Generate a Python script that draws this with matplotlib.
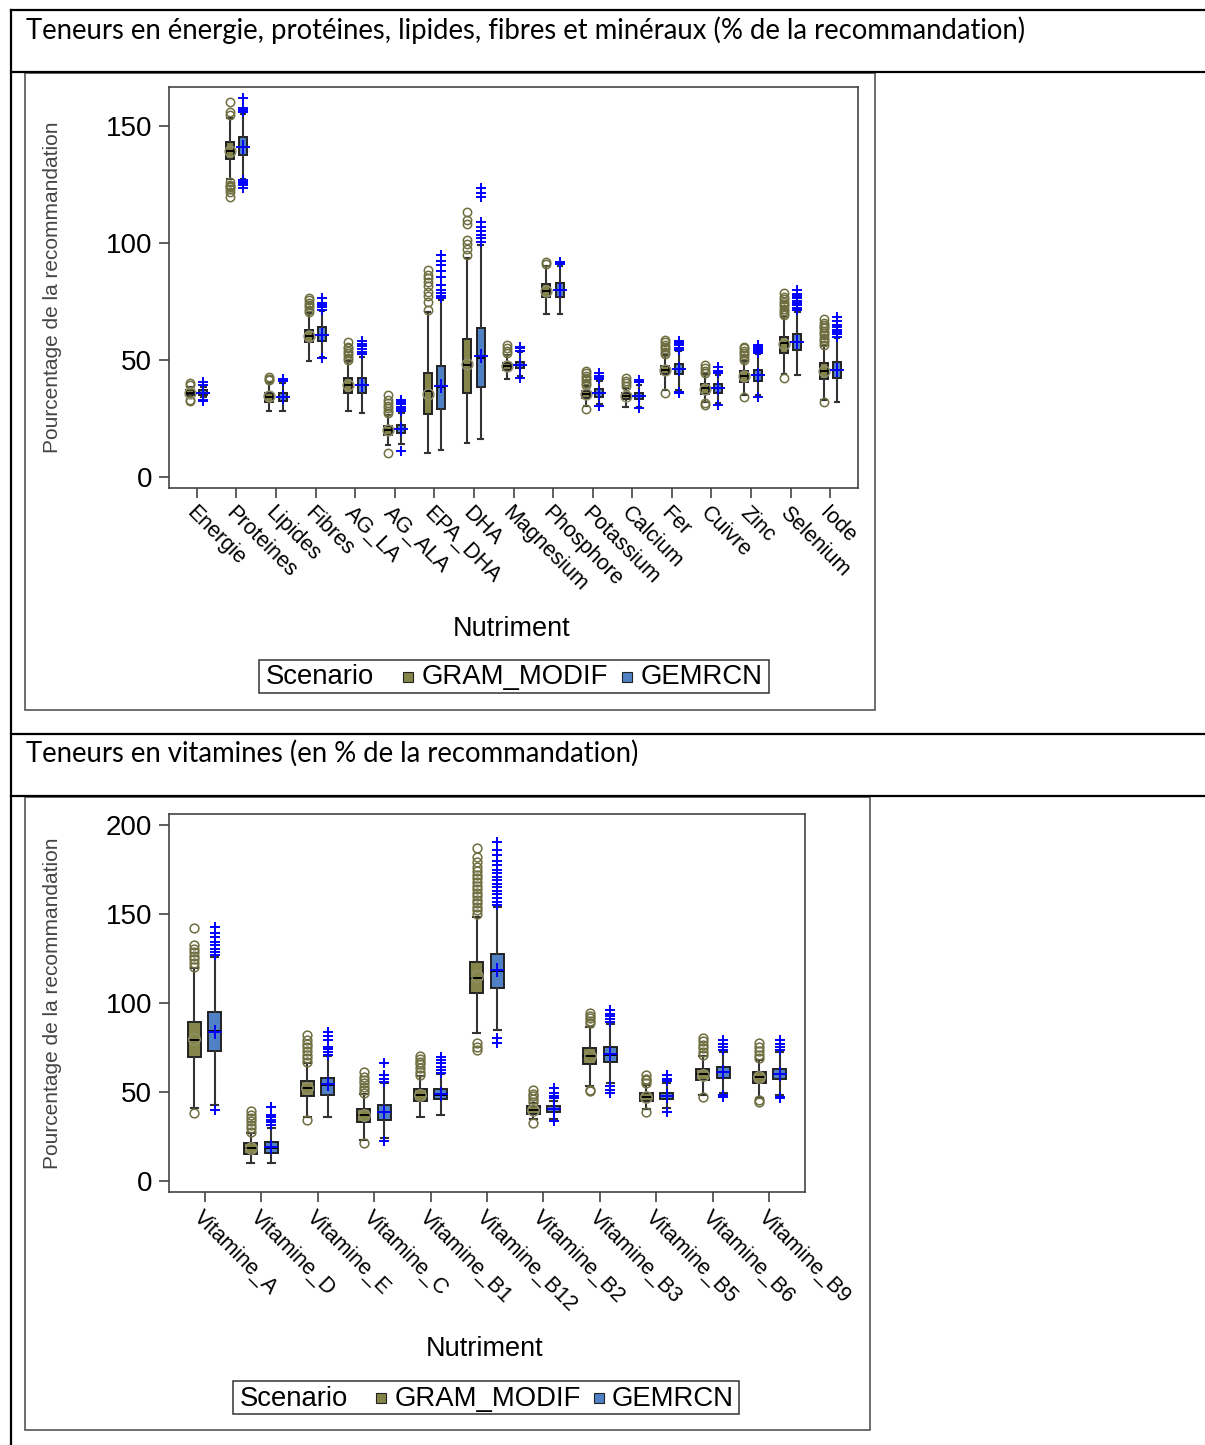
import matplotlib.pyplot as plt
import matplotlib.transforms as mtransforms
from matplotlib.patches import Rectangle
from matplotlib.lines import Line2D

# ---- data ----
cats_top = ["Energie", "Proteines", "Lipides", "Fibres", "AG_LA", "AG_ALA", "EPA_DHA", "DHA",
            "Magnesium", "Phosphore", "Potassium", "Calcium", "Fer", "Cuivre", "Zinc",
            "Selenium", "Iode"]

# (q1, median, q3, mean, whisker low, whisker high)
gram_top = [
    (35, 36, 37, 36, 34, 38.5), (135.8, 139.5, 143.3, 139.5, 127.5, 153.6),
    (32.2, 34.3, 36, 34.5, 28.2, 40), (57.5, 60.4, 62.8, 60.2, 49.6, 70),
    (35.8, 39.3, 42.2, 39.5, 28.2, 49.5), (17.9, 20.1, 21.9, 20.2, 13.7, 26.5),
    (26.8, 36.8, 44.6, 35.5, 10.4, 70.4), (35.8, 47.9, 58.8, 48.5, 14.4, 93.4),
    (45.7, 47.5, 48.9, 47.5, 41.7, 52), (77, 79.6, 82.5, 79.5, 69.5, 90),
    (33.6, 35.3, 36.9, 35.3, 30.5, 39), (33.2, 34.6, 36, 34.6, 29.8, 38),
    (43.9, 45.7, 47.4, 45.7, 37.2, 52), (35.5, 37.9, 39.7, 37.7, 32, 44),
    (40.7, 43.2, 45.4, 43.2, 35, 49.5), (53.1, 57.1, 59.7, 56.8, 44, 68.5),
    (41.7, 45.3, 48.6, 45.3, 32.9, 56),
]
gram_top_out = [
    [40, 39.5, 33, 32.5],
    [154.7, 156.1, 160.4, 126, 125, 124.5, 124, 123, 122, 119.7],
    [41.5, 42, 42.9],
    [70.6, 71.5, 72.5, 73.5, 74.5, 75.5, 76.4],
    [50, 51, 52, 53, 54, 55, 55.7, 57.8],
    [27.3, 28.3, 29.3, 30.3, 31.5, 33, 35, 10.4],
    [71.4, 75, 77.5, 79, 81.5, 83.5, 85, 86.5, 88.5],
    [94.9, 97.5, 99.5, 101.5, 108, 110, 113.4],
    [52.9, 54, 55, 56.4],
    [91, 92],
    [39.3, 40.3, 41.3, 42.3, 43.3, 44.3, 45.4, 29.1],
    [38.9, 40, 41, 42.2],
    [52.5, 53.5, 54.5, 55.5, 56.5, 57.5, 58.5, 35.8],
    [44.3, 45.5, 46.5, 47.9, 30.8, 31.5],
    [50, 51, 52, 53, 54, 55, 55.7, 34],
    [69.2, 70, 71, 72, 73, 74, 75, 76, 77, 78.5, 42.4],
    [56.4, 57.5, 58.5, 59.5, 60.5, 61.5, 62.5, 63.5, 64.2, 65, 66, 67.4, 32.2],
]
gem_top = [
    (35, 36, 37, 36, 34, 38.5), (137.5, 141, 145.2, 141.2, 127.5, 155),
    (32.6, 34, 35.8, 34.2, 28.2, 40), (58.1, 60.9, 64, 60.9, 51.5, 71),
    (35.8, 39.3, 42.2, 39.5, 27.5, 51.5), (18.8, 20.5, 22.4, 20.6, 14, 27.5),
    (29.1, 38.5, 47.4, 38.9, 11.5, 75.6), (38.6, 51, 63.5, 51.8, 16.1, 99),
    (46.4, 48, 49.3, 48, 43, 53.5), (77, 79.8, 82.8, 79.8, 69.5, 90),
    (34.2, 35.8, 37.5, 36, 31, 41), (33.5, 34.7, 36, 34.8, 30, 39.5),
    (44.2, 46.2, 48.3, 46.3, 37, 54), (35.8, 38, 39.9, 38, 31.5, 43.5),
    (41.2, 43.5, 45.9, 43.6, 35, 52.5), (54.3, 57.5, 61.1, 57.8, 43.6, 70.5),
    (42.2, 45.8, 49.3, 45.7, 32.2, 59.5),
]
gem_top_out = [
    [40.5, 39.5, 33, 32.6],
    [156.1, 157, 157.6, 161.8, 127, 126.2, 125.5, 124.8, 123.4],
    [41, 41.5, 42],
    [71.4, 72.5, 73.5, 74.5, 76.4, 51],
    [52.6, 53.5, 54.5, 56, 57, 58.3],
    [28, 29, 30, 31, 32, 33, 11.3],
    [76.5, 77.5, 78.5, 80, 82, 85.5, 88, 90.5, 92.5, 94.9],
    [100.6, 102, 103.5, 105, 107, 109, 119.5, 121.5, 123.4],
    [54, 55, 55.5, 42.2],
    [91, 91.5, 92],
    [41.7, 42.5, 43.3, 44.3, 30.3],
    [40.7, 41.5, 29.3],
    [54.3, 55.3, 56.3, 57.1, 58, 36.5, 35.9],
    [44.3, 45.5, 47, 30.8],
    [52.9, 53.8, 54.7, 55.7, 56.4, 34.3],
    [71.4, 72.4, 73.4, 74.4, 75.4, 76.4, 77.4, 78.4, 79.9],
    [60, 61, 62, 63, 64, 65, 66.5, 68.5],
]

cats_bot = ["Vitamine_A", "Vitamine_D", "Vitamine_E", "Vitamine_C", "Vitamine_B1", "Vitamine_B12",
            "Vitamine_B2", "Vitamine_B3", "Vitamine_B5", "Vitamine_B6", "Vitamine_B9"]
gram_bot = [
    (69.5, 79.2, 89.5, 79.5, 41.2, 119.5), (15.2, 18.4, 21.5, 18.5, 9.9, 27),
    (47.8, 52.4, 56.2, 52.3, 36, 66.5), (33, 37.1, 40.4, 36.9, 23, 49),
    (44.9, 48.3, 51.5, 48.4, 36.1, 59), (105.8, 113.9, 122.9, 115, 83, 148.5),
    (37.6, 39.9, 42.1, 40, 35, 43.6), (65.7, 70.2, 74.5, 70, 53.4, 86.7),
    (44.9, 47.4, 49.3, 47.3, 40.5, 54), (56.7, 59.9, 62.8, 59.8, 48.5, 70),
    (55.2, 58.6, 61.4, 58.5, 46.5, 68),
]
gram_bot_out = [
    [120.4, 122.5, 124.5, 126.5, 128.5, 130.5, 132.6, 142, 38.4],
    [27.7, 29.5, 31.5, 33.5, 35.5, 37.1, 39.3],
    [67, 69, 71, 73, 75, 77, 79.2, 82, 34.3],
    [49.3, 51, 53, 55, 57, 58.6, 61.4, 21.2],
    [59.6, 61.5, 63.5, 65.5, 67, 68.4, 70.2],
    [150, 152, 154, 156, 158, 160, 162, 164, 166, 168, 170, 172, 174, 176.5, 179, 182, 186.9,
     77.3, 75.5, 73.6],
    [44.5, 46, 47.5, 49, 51.1, 32.8],
    [88.6, 90, 91.5, 92.5, 94.2, 51.1, 50.5],
    [54.9, 56.5, 57.5, 59.6, 38.9],
    [70.8, 72.5, 74.5, 76.5, 78.5, 80.2, 47.4],
    [68.9, 71, 73, 75, 77.3, 45.5, 44.5],
]
gem_bot = [
    (73.2, 84, 94.8, 83.9, 42.7, 126), (15.9, 18.8, 22.1, 19, 9.9, 30),
    (48.3, 54, 57.7, 54.5, 36.1, 70), (34.3, 38.5, 42.7, 38.9, 24, 55),
    (46.1, 48.5, 51.5, 48.8, 37.1, 60), (108.6, 118, 127.4, 118.5, 84.8, 154.1),
    (38.5, 40.3, 42.1, 40.3, 35, 45), (67, 71, 75.5, 71.2, 55, 88),
    (46, 47.5, 49.3, 47.6, 41, 55), (58, 61, 64.2, 61.2, 49.5, 72.5),
    (57.1, 60, 62.8, 60, 48.5, 72.5),
]
gem_bot_out = [
    [127, 128.8, 130.5, 132.6, 134.5, 137, 139.5, 142.9, 39.9],
    [31.5, 33, 34.5, 36, 37.1, 41.7],
    [70.8, 72.5, 74, 75.5, 79.2, 81.5, 83.9],
    [55.8, 57.5, 59.6, 66.1, 22.5],
    [60.5, 62.5, 64.2, 66.1, 68, 69.8],
    [155, 157, 159, 161, 163, 165, 167, 169, 171, 173, 175, 177.5, 180, 183, 186, 190.6,
     80.2, 77.3],
    [46.4, 47.8, 49.3, 52.1, 33.9],
    [89.5, 91, 92.5, 94, 96.1, 53.4, 51, 49.3],
    [56, 57.5, 59.6, 38.9],
    [73.6, 75, 77, 79.2, 48.3, 47],
    [73.6, 75, 77, 79.2, 47.4, 46.5],
]

scenarios = ["GRAM_MODIF", "GEMRCN"]
title_top = "Teneurs en énergie, protéines, lipides, fibres et minéraux (% de la recommandation)"
title_bot = "Teneurs en vitamines (en % de la recommandation)"
ylabel = "Pourcentage de la recommandation"
xlabel = "Nutriment"

OLIVE = "#85854a"
OLIVE_DK = "#6e6e40"
BLUE = "#4f81c4"

plt.rcParams["font.family"] = ["Liberation Sans", "DejaVu Sans"]

W, H = 1205, 1445
fig = plt.figure(figsize=(W / 100, H / 100), dpi=100)
px = mtransforms.Affine2D().scale(1 / W, -1 / H).translate(0, 1) + fig.transFigure


def axes_px(l, t, r, b):
    return fig.add_axes([l / W, 1 - b / H, (r - l) / W, (b - t) / H])


def boxes(ax, stats, outs, offset, width, color, olive, msz):
    bx = [dict(q1=s[0], med=s[1], q3=s[2], mean=s[3], whislo=s[4], whishi=s[5], fliers=o)
          for s, o in zip(stats, outs)]
    pos = [i + offset for i in range(len(stats))]
    if olive:
        flier = dict(marker="o", mfc="none", mec=OLIVE_DK, ms=msz, mew=1.1)
        mean = dict(marker="o", mfc="none", mec="#8f8f6a", ms=msz * 1.3, mew=1.1)
    else:
        flier = dict(marker="+", mfc="none", mec="#0000ff", ms=msz * 1.2, mew=1.4)
        mean = dict(marker="+", mfc="none", mec="#0000ff", ms=msz * 1.6, mew=1.4)
    ax.bxp(bx, positions=pos, widths=width, capwidths=width * 0.55, patch_artist=True,
           showmeans=True, manage_ticks=False,
           boxprops=dict(facecolor=color, edgecolor="#222222", linewidth=1.4),
           medianprops=dict(color="black", linewidth=1.4),
           whiskerprops=dict(color="#333333", linewidth=1.5),
           capprops=dict(color="#333333", linewidth=1.5),
           flierprops=flier, meanprops=mean)


def style_axes(ax, cats, ymax_lim, ymin_lim, yticks, xpad):
    ax.set_xlim(-xpad, len(cats) - 1 + xpad)
    ax.set_ylim(ymin_lim, ymax_lim)
    ax.set_yticks(yticks)
    ax.set_xticks(range(len(cats)))
    ax.set_xticklabels(cats, rotation=-45, ha="left", va="top", rotation_mode="anchor",
                       fontsize=15.5)
    shift = mtransforms.ScaledTranslation(-7 / 100, 0, fig.dpi_scale_trans)
    for lab in ax.get_xticklabels():
        lab.set_transform(lab.get_transform() + shift)
    ax.tick_params(axis="y", labelsize=20, length=7.5, width=1.1, color="#333333", pad=4.5)
    ax.tick_params(axis="x", length=7.5, width=1.1, color="#333333", pad=3)
    for s in ax.spines.values():
        s.set_color("#444444")
        s.set_linewidth(1.2)


# ---- top chart ----
ax1 = axes_px(169, 87, 858, 488)
boxes(ax1, gram_top, gram_top_out, -0.17, 0.2, OLIVE, True, 6)
boxes(ax1, gem_top, gem_top_out, 0.17, 0.2, BLUE, False, 6)
style_axes(ax1, cats_top, 166.7, -4.7, [0, 50, 100, 150], 0.7)

# ---- bottom chart ----
ax2 = axes_px(169, 814, 805, 1192)
boxes(ax2, gram_bot, gram_bot_out, -0.18, 0.23, OLIVE, True, 6.3)
boxes(ax2, gem_bot, gem_bot_out, 0.18, 0.23, BLUE, False, 6.3)
style_axes(ax2, cats_bot, 206.2, -6.2, [0, 50, 100, 150, 200], 0.63)

# ---- table grid and chart frames ----
for y in [10, 72, 734, 796]:
    fig.add_artist(Line2D([11, 1205], [y, y], transform=px, color="black", lw=1.6))
fig.add_artist(Line2D([11, 11], [10, 1445], transform=px, color="black", lw=1.6))
fig.add_artist(Rectangle((25, 73), 850, 637, transform=px, fill=False, ec="#555555", lw=1.2))
fig.add_artist(Rectangle((25, 797), 845, 633, transform=px, fill=False, ec="#555555", lw=1.2))

fig.text(26, 30, title_top, transform=px, fontsize=19.8, family=["Lato", "DejaVu Sans"],
         va="center", ha="left")
fig.text(26, 753, title_bot, transform=px, fontsize=19.8, family=["Lato", "DejaVu Sans"],
         va="center", ha="left")

for yc, xc in [(287, 53), (1003, 53)]:
    fig.text(xc, yc, ylabel, transform=px, rotation=90, fontsize=15, color="#444444",
             ha="center", va="center")
fig.text(512, 629, xlabel, transform=px, fontsize=19.5, ha="center", va="center")
fig.text(485, 1349, xlabel, transform=px, fontsize=19.5, ha="center", va="center")


def legend_px(x0, y0, x1, y1, xs, xsq1, xt1, xsq2, xt2):
    fig.add_artist(Rectangle((x0, y0), x1 - x0, y1 - y0, transform=px, fill=False,
                             ec="#333333", lw=1.1))
    yc = (y0 + y1) / 2
    fig.text(xs, yc + 1, "Scenario", transform=px, fontsize=19.8, va="center", ha="left")
    for xq, xt, col, lab in [(xsq1, xt1, OLIVE, scenarios[0]), (xsq2, xt2, BLUE, scenarios[1])]:
        fig.add_artist(Rectangle((xq, yc - 5), 10, 10, transform=px, fc=col, ec="#222222",
                                 lw=0.8))
        fig.text(xt, yc + 1, lab, transform=px, fontsize=19.8, va="center", ha="left")


legend_px(259, 660, 769, 693, 266, 403, 422, 622, 641)
legend_px(233, 1381, 739, 1414, 240, 376, 395, 594, 612)

fig.savefig("out.png", dpi=100)
